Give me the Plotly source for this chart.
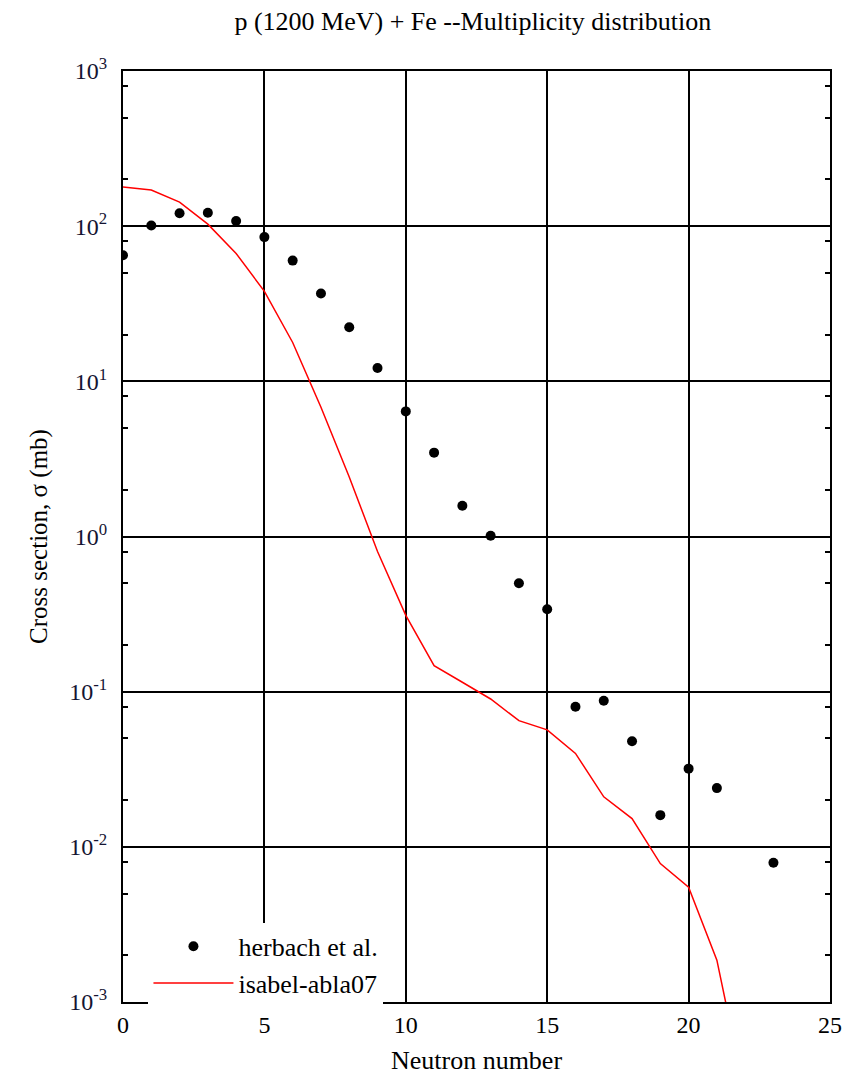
import plotly.graph_objects as go

# Experimental data (herbach et al.)
exp_n = [0, 1, 2, 3, 4, 5, 6, 7, 8, 9, 10, 11, 12, 13, 14, 15, 16, 17, 18, 19, 20, 21, 23]
exp_sigma = [65, 101, 121, 122, 108, 85, 60, 36.8, 22.3, 12.2, 6.4, 3.47, 1.58, 1.01,
             0.50, 0.34, 0.080, 0.0875, 0.0479, 0.0160, 0.0319, 0.0239, 0.0079]

# Model (isabel-abla07)
mod_n = [0, 1, 2, 3, 4, 5, 6, 7, 8, 9, 10, 11, 12, 13, 14, 15, 16, 17, 18, 19, 20, 21, 22]
mod_sigma = [179, 171, 143, 103, 66.7, 38, 17.8, 6.8, 2.42, 0.80, 0.31, 0.147, 0.115,
             0.0897, 0.065, 0.0567, 0.040, 0.021, 0.0152, 0.0078, 0.0055, 0.00186, 0.00025]

major_vals = [1e-3, 1e-2, 1e-1, 1e0, 1e1, 1e2, 1e3]
major_text = ["10<sup>-3</sup>", "10<sup>-2</sup>", "10<sup>-1</sup>", "10<sup>0</sup>",
              "10<sup>1</sup>", "10<sup>2</sup>", "10<sup>3</sup>"]
minor_mult = [2, 5, 8]
minor_vals = [m * d for d in major_vals[:-1] for m in minor_mult]

FONT = "Liberation Serif"

fig = go.Figure()
fig.add_trace(go.Scatter(
    x=exp_n, y=exp_sigma, mode="markers", name="herbach et al.",
    marker=dict(color="black", size=10), legendgroup="a"))
fig.add_trace(go.Scatter(
    x=mod_n, y=mod_sigma, mode="lines", name="isabel-abla07",
    line=dict(color="#ff0000", width=1.5), legendgroup="b"))
# invisible trace to carry the minor-tick axis
fig.add_trace(go.Scatter(
    x=exp_n, y=exp_sigma, yaxis="y2", mode="markers", marker=dict(opacity=0),
    showlegend=False, hoverinfo="skip"))

fig.update_layout(
    width=855, height=1079,
    margin=dict(l=123, r=25, t=71, b=77, autoexpand=False),
    paper_bgcolor="white", plot_bgcolor="white",
    font=dict(family=FONT, color="black", size=24),
    title=dict(text="p (1200 MeV) + Fe --Multiplicity distribution",
               x=0.553, xanchor="center", y=0.981, yanchor="middle",
               font=dict(family=FONT, size=26, color="black")),
    xaxis=dict(range=[0, 25], dtick=5, tick0=0, automargin=False,
               showgrid=True, gridcolor="black", gridwidth=2,
               showline=True, linecolor="black", linewidth=2, mirror=True,
               ticks="", zeroline=False,
               tickfont=dict(family=FONT, size=24),
               title=dict(text="Neutron number", font=dict(family=FONT, size=26), standoff=14)),
    yaxis=dict(type="log", range=[-3, 3], automargin=False,
               tickvals=major_vals, ticktext=major_text,
               showgrid=True, gridcolor="black", gridwidth=2,
               showline=True, linecolor="black", linewidth=2, mirror=True,
               ticks="", zeroline=False, ticklabelstandoff=9,
               tickfont=dict(family=FONT, size=24, color="#141432"),
               title=dict(text="Cross section, σ (mb)", font=dict(family=FONT, size=25), standoff=14)),
    yaxis2=dict(type="log", range=[-3, 3], overlaying="y", side="left", automargin=False,
                tickvals=minor_vals, showticklabels=False,
                ticks="inside", ticklen=5, tickwidth=2, tickcolor="black",
                showline=True, linecolor="black", linewidth=2, mirror="all",
                showgrid=False, zeroline=False),
    legend=dict(x=0.036, y=0.085, xanchor="left", yanchor="top",
                bgcolor="white", borderwidth=0, itemwidth=80,
                traceorder="grouped", tracegroupgap=0,
                font=dict(family=FONT, size=26)),
    showlegend=True,
)

fig.write_html("out.html")
